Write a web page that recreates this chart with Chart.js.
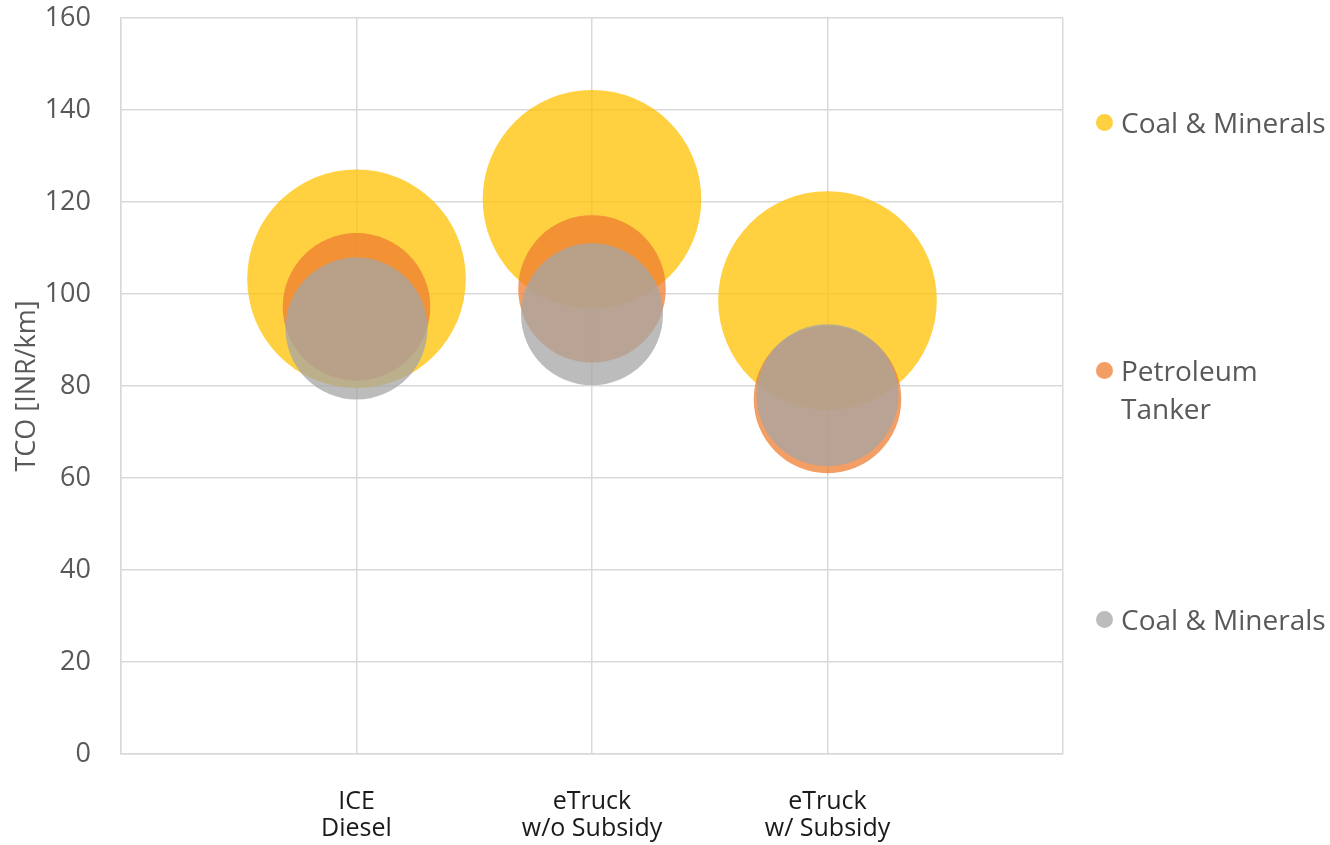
<!DOCTYPE html>
<html>
<head>
<meta charset="utf-8">
<title>TCO by truck type</title>
<script src="https://cdn.jsdelivr.net/npm/chart.js@4.4.1/dist/chart.umd.min.js"></script>
<style>
  html, body { margin: 0; padding: 0; background: #ffffff; }
  #wrap { position: relative; width: 1330px; height: 845px; }
  #chart { position: absolute; left: 0; top: 0; }
  #legend {
    position: absolute; left: 0; top: 0; width: 1330px; height: 845px;
    pointer-events: none;
    font-family: "Open Sans", sans-serif; font-size: 28px; line-height: 38px; color: #595959;
  }
  .item { position: absolute; left: 1096px; }
  .item .dot {
    position: absolute; left: 0; top: 11px; width: 17px; height: 17px; border-radius: 50%;
  }
  .item .txt { position: absolute; left: 25px; top: 0; width: 215px; }
  .item:nth-child(1) { top: 103px; }
  .item:nth-child(2) { top: 351px; }
  .item:nth-child(3) { top: 600px; }
</style>
</head>
<body>
<div id="wrap">
  <canvas id="chart" width="1330" height="845"></canvas>
  <div id="legend"></div>
</div>
<script>
// Categories on the x axis (one label line per array entry)
const categories = [
  ['ICE', 'Diesel'],
  ['eTruck', 'w/o Subsidy'],
  ['eTruck', 'w/ Subsidy']
];

// Series names
const seriesNames = ['Coal & Minerals', 'Petroleum Tanker', 'Coal & Minerals'];

// TCO values [INR/km] per category
const coalTco      = [103.3, 120.6, 98.6];
const petroleumTco = [97.2, 101.1, 77.1];
const coal2Tco     = [92.5, 95.6, 78.0];

// Relative bubble sizes (area)
const coalSize      = [2.37, 2.37, 2.37];
const petroleumSize = [1.08, 1.08, 1.08];
const coal2Size     = [1.0, 1.0, 1.0];

// Y axis tick values
const yTicks = [0, 20, 40, 60, 80, 100, 120, 140, 160];

// Colours
const colors = ['rgba(255,192,0,0.75)', 'rgba(237,125,49,0.75)', 'rgba(165,165,165,0.75)'];

const BUBBLE_SCALE = 71; // pixel radius of a bubble with size 1
const radiusOf = s => BUBBLE_SCALE * Math.sqrt(s);

function points(values, sizes) {
  return values.map((v, i) => ({ x: i + 1, y: v, r: radiusOf(sizes[i]) }));
}

const seriesValues = [coalTco, petroleumTco, coal2Tco];
const seriesSizes = [coalSize, petroleumSize, coal2Size];

// later series are painted over earlier ones
const datasets = seriesNames.map((name, k) => ({
  label: name,
  data: points(seriesValues[k], seriesSizes[k]),
  backgroundColor: colors[k],
  borderWidth: 0,
  hoverBorderWidth: 0,
  hoverRadius: 0,
  order: seriesNames.length - 1 - k,
  clip: false
}));

// Legend built from the series
const legendEl = document.getElementById('legend');
seriesNames.forEach((name, k) => {
  const item = document.createElement('div');
  item.className = 'item';
  const dot = document.createElement('span');
  dot.className = 'dot';
  dot.style.background = colors[k];
  const txt = document.createElement('span');
  txt.className = 'txt';
  txt.textContent = name;
  item.appendChild(dot);
  item.appendChild(txt);
  legendEl.appendChild(item);
});

const gridColor = '#d9d9d9';

new Chart(document.getElementById('chart'), {
  type: 'bubble',
  data: { datasets },
  options: {
    responsive: false,
    animation: false,
    events: [],
    layout: { autoPadding: false, padding: { top: 18, right: 267, bottom: 0, left: 0 } },
    plugins: { legend: { display: false }, tooltip: { enabled: false } },
    scales: {
      x: {
        type: 'linear',
        min: 0,
        max: 4,
        afterFit: s => { s.height = 91; s.paddingLeft = 0; s.paddingRight = 0; },
        afterBuildTicks: s => { s.ticks = [0, 1, 2, 3, 4].map(v => ({ value: v })); },
        grid: { color: gridColor, lineWidth: 1.5, drawTicks: false },
        border: { color: gridColor, width: 1.5 },
        ticks: {
          padding: 34,
          maxRotation: 0,
          autoSkip: false,
          color: '#1a1a1a',
          font: { family: 'Open Sans', size: 25, lineHeight: 1.1 },
          callback: v => (v >= 1 && v <= categories.length) ? categories[v - 1] : ''
        }
      },
      y: {
        min: 0,
        max: 160,
        afterFit: s => { s.width = 121; s.paddingTop = 0; s.paddingBottom = 0; },
        afterBuildTicks: s => { s.ticks = yTicks.map(v => ({ value: v })); },
        grid: { color: gridColor, lineWidth: 1.5, drawTicks: false },
        border: { color: gridColor, width: 1.5 },
        ticks: {
          padding: 30,
          color: '#595959',
          font: { family: 'Open Sans', size: 27 }
        },
        title: {
          display: true,
          text: 'TCO [INR/km]',
          color: '#595959',
          font: { family: 'Open Sans', size: 27 },
          padding: { top: 11, bottom: 0 }
        }
      }
    }
  }
});
</script>
</body>
</html>
